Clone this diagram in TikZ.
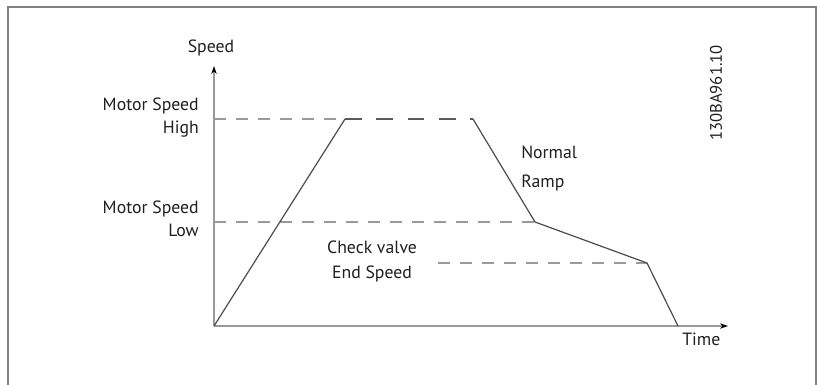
\documentclass[tikz,border=0pt]{standalone}
\usepackage{fontspec}
\setmainfont{PT Sans}
\usetikzlibrary{arrows.meta}
\begin{document}
\begin{tikzpicture}[x=0.75pt,y=-0.75pt,
  lbl/.style={inner sep=0pt,text=black!88,font=\fontsize{13.3}{17}\selectfont},
  axisline/.style={draw=black!40,line width=0.8pt,-{Stealth[length=6pt,width=4pt,color=black]}},
  ramp/.style={draw=black!70,line width=0.9pt,line join=round},
  guide/.style={draw=black!40,line width=0.8pt,dash pattern=on 9pt off 7.5pt},
  topdash/.style={draw=black!65,line width=0.9pt,dash pattern=on 12.5pt off 11pt},
  frame/.style={draw=black!50,line width=1.5pt}]
\useasboundingbox (0,0) rectangle (817,385);
\clip (0,0) rectangle (817,385);
% frame
\draw[frame] (8,400) -- (8,7) -- (816,7) -- (816,400);
% coordinates
\coordinate (O) at (214,326);
\coordinate (Ytip) at (214,66);
\coordinate (Xtip) at (728,326);
\coordinate (A) at (345,119);
\coordinate (B) at (473,119);
\coordinate (C) at (535,222);
\coordinate (D) at (647,263);
\coordinate (E) at (678,326);
\coordinate (H0) at (214,119);
\coordinate (L0) at (214,222);
\coordinate (V0) at (438,263);
% guides
\draw[guide] (H0) -- (A);
\draw[guide] (L0) -- (C);
\draw[guide] (V0) -- (D);
% axes
\draw[axisline] (O) -- (Ytip);
\draw[axisline] (O) -- (Xtip);
% ramp
\draw[ramp] (O) -- (A);
\draw[topdash] (A) -- (B);
\draw[ramp] (B) -- (C) -- (D) -- (E);
% labels
\node[lbl,anchor=south] (speed) at (211,56) {Speed};
\node[lbl,anchor=north west] (time) at (682,333) {Time};
\node[lbl,align=right,anchor=north east] (msh) at (199,98) {Motor Speed\\High};
\node[lbl,align=right,anchor=north east] (msl) at (199,201) {Motor Speed\\Low};
\node[lbl,align=left,anchor=north west,font=\fontsize{13.3}{21.8}\selectfont] (nr) at (521,146) {Normal\\Ramp};
\node[lbl,align=center,anchor=north,font=\fontsize{13.3}{18.8}\selectfont] (cv) at (372,241) {Check valve\\End Speed};
\node[lbl,rotate=90,anchor=center,font=\fontsize{12.5}{15}\selectfont] (code) at (716,93) {130BA961.10};
\end{tikzpicture}
\end{document}
